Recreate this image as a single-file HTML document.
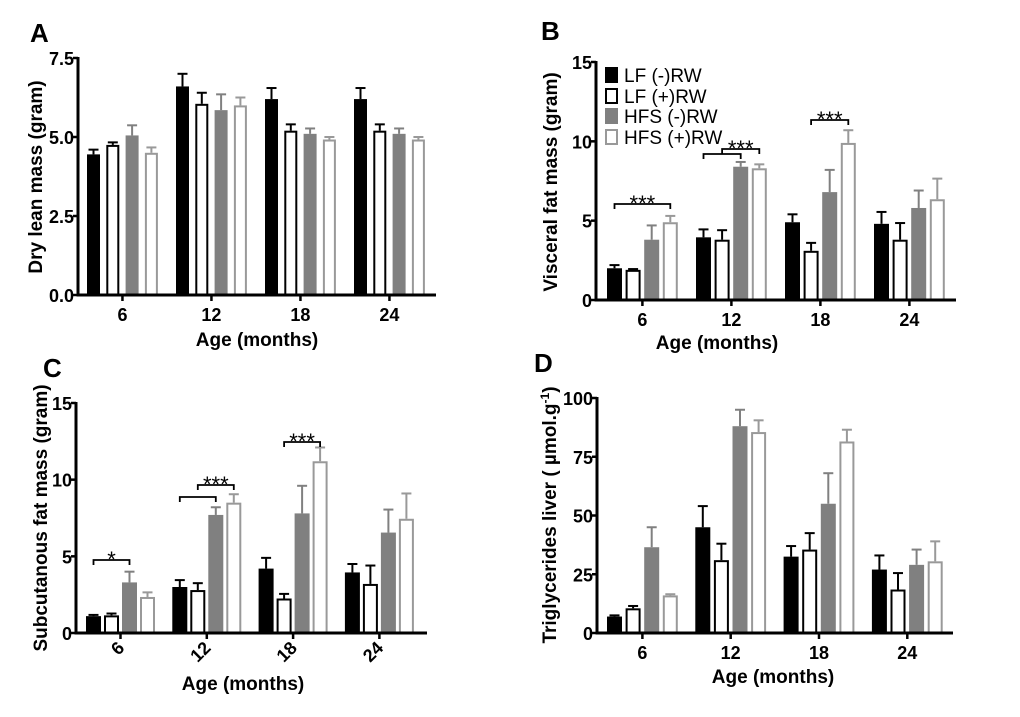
<!DOCTYPE html>
<html><head><meta charset="utf-8"><style>
html,body{margin:0;padding:0;background:#fff;}
svg{display:block;font-family:"Liberation Sans",Arial,sans-serif;}
</style></head><body>
<svg id="fig" width="1020" height="717" viewBox="0 0 1020 717" xmlns="http://www.w3.org/2000/svg">
<text x="30" y="42" font-size="26" font-weight="bold">A</text>
<text x="541" y="40" font-size="26" font-weight="bold">B</text>
<text x="43" y="377" font-size="26" font-weight="bold">C</text>
<text x="534" y="372" font-size="26" font-weight="bold">D</text>
<g id="legend">
<rect x="605" y="67" width="13" height="16" fill="#000"/>
<text x="624" y="82" font-size="19">LF (-)RW</text>
<rect x="606" y="89" width="11" height="14" fill="#fff" stroke="#000" stroke-width="2"/>
<text x="624" y="103" font-size="19">LF (+)RW</text>
<rect x="605" y="108" width="13" height="16" fill="#808080"/>
<text x="624" y="123" font-size="19">HFS (-)RW</text>
<rect x="606" y="130" width="11" height="14" fill="#fff" stroke="#999" stroke-width="2"/>
<text x="624" y="144" font-size="19">HFS (+)RW</text>
</g>
</svg>
<script>
var categories = ["6","12","18","24"];
var seriesNames = ["LF (-)RW","LF (+)RW","HFS (-)RW","HFS (+)RW"];
// Panel A: dry lean mass
var aLfMinus = [4.45, 6.6, 6.2, 6.2];
var aLfMinusErr = [0.15, 0.4, 0.35, 0.35];
var aLfPlus = [4.75, 6.05, 5.2, 5.2];
var aLfPlusErr = [0.08, 0.35, 0.2, 0.2];
var aHfsMinus = [5.05, 5.85, 5.1, 5.1];
var aHfsMinusErr = [0.32, 0.5, 0.17, 0.17];
var aHfsPlus = [4.5, 6.0, 4.92, 4.92];
var aHfsPlusErr = [0.17, 0.25, 0.08, 0.08];
var aTicks = ["0.0","2.5","5.0","7.5"];
var aTickValues = [0, 2.5, 5, 7.5];
// Panel B: visceral fat
var bLfMinus = [2.0, 3.95, 4.9, 4.8];
var bLfMinusErr = [0.2, 0.5, 0.5, 0.75];
var bLfPlus = [1.9, 3.8, 3.1, 3.8];
var bLfPlusErr = [0.05, 0.6, 0.5, 1.05];
var bHfsMinus = [3.8, 8.4, 6.8, 5.8];
var bHfsMinusErr = [0.9, 0.3, 1.4, 1.1];
var bHfsPlus = [4.9, 8.3, 9.9, 6.35];
var bHfsPlusErr = [0.4, 0.25, 0.8, 1.3];
var bTicks = ["0","5","10","15"];
var bTickValues = [0, 5, 10, 15];
// Panel C: subcutaneous fat
var cLfMinus = [1.1, 3.0, 4.2, 3.95];
var cLfMinusErr = [0.08, 0.45, 0.7, 0.55];
var cLfPlus = [1.15, 2.8, 2.25, 3.2];
var cLfPlusErr = [0.12, 0.45, 0.3, 1.2];
var cHfsMinus = [3.3, 7.7, 7.8, 6.55];
var cHfsMinusErr = [0.7, 0.5, 1.8, 1.5];
var cHfsPlus = [2.35, 8.5, 11.2, 7.45];
var cHfsPlusErr = [0.3, 0.55, 0.9, 1.65];
var cTicks = ["0","5","10","15"];
var cTickValues = [0, 5, 10, 15];
// Panel D: liver triglycerides
var dLfMinus = [7, 45, 32.5, 27];
var dLfMinusErr = [0.5, 9, 4.5, 6];
var dLfPlus = [10.5, 31, 35.5, 18.5];
var dLfPlusErr = [1, 7, 7, 7];
var dHfsMinus = [36.5, 88, 55, 29];
var dHfsMinusErr = [8.5, 7, 13, 6.5];
var dHfsPlus = [16, 85.5, 81.5, 30.5];
var dHfsPlusErr = [0.5, 5, 5, 8.5];
var dTicks = ["0","25","50","75","100"];
var dTickValues = [0, 25, 50, 75, 100];

var NS = "http://www.w3.org/2000/svg";
var svg = document.getElementById("fig");
var fills = ["#000","#fff","#808080","#fff"];
var strokes = ["#000","#000","#808080","#999"];
var sKeys = ["lf-minus","lf-plus","hfs-minus","hfs-plus"];
function mk(tag, attrs, parent){
  var e = document.createElementNS(NS, tag);
  for (var k in attrs) e.setAttribute(k, attrs[k]);
  (parent||svg).appendChild(e);
  return e;
}
function panel(p){
  var g = mk("g", {});
  
  
  function y(v){ return p.y0 - (v / p.ymax) * (p.y0 - p.ytop); }
  function gx(i){ return p.gStart + i * p.gPitch; }
  var series = [p.s0, p.s1, p.s2, p.s3];
  var errs = [p.e0, p.e1, p.e2, p.e3];
  for (var i = 0; i < categories.length; i++){
    for (var s = 0; s < 4; s++){
      var x = gx(i) + s * p.bPitch;
      var v = series[s][i], yt = y(v), ye = y(v + errs[s][i]);
      var cx = x + p.bw / 2;
      var el = mk("line", {x1:cx, x2:cx, y1:yt, y2:ye, stroke:strokes[s], "stroke-width":2}, g);
      
      
      var cap = mk("line", {x1:cx-5, x2:cx+5, y1:ye, y2:ye, stroke:strokes[s], "stroke-width":2}, g);
      
      
      var inset = (fills[s] === "#fff") ? 1 : 0;
      var r = mk("rect", {x:x+inset, y:yt+inset, width:p.bw-2*inset, height:Math.max(0,p.y0-yt-inset), fill:fills[s], stroke: inset? strokes[s] : "none", "stroke-width":2}, g);
      
      
    }
    var tc = gx(i) + (3 * p.bPitch + p.bw) / 2;
    var tk = mk("line", {x1:tc, x2:tc, y1:p.y0, y2:p.y0+6, stroke:"#000", "stroke-width":2.5}, g);
    
    
    var lbl;
    if (p.rot){
      lbl = mk("text", {x:tc+5, y:p.y0+16, "font-size":18, "font-weight":"bold", "text-anchor":"end", transform:"rotate(-45 "+(tc+5)+" "+(p.y0+16)+")"}, g);
    } else {
      lbl = mk("text", {x:tc, y:p.y0+26, "font-size":18, "font-weight":"bold", "text-anchor":"middle"}, g);
    }
    lbl.textContent = categories[i];
    
    
  }
  for (var t = 0; t < p.ticks.length; t++){
    var ty = y(p.tickValues[t]);
    var yl = mk("line", {x1:p.x0-5, x2:p.x0, y1:ty, y2:ty, stroke:"#000", "stroke-width":2.5}, g);
    
    
    var tl = mk("text", {x:p.x0-4, y:ty+7, "font-size":18, "font-weight":"bold", "text-anchor":"end"}, g);
    tl.textContent = p.ticks[t];
    
    
  }
  var ax = mk("path", {d:"M"+p.x0+" "+(p.ytop-1)+" L"+p.x0+" "+p.y0+" L"+p.x1+" "+p.y0, fill:"none", stroke:"#000", "stroke-width":3}, g);
  
  
  var xt = mk("text", {x:p.xtX, y:p.xtY, "font-size":19, "font-weight":"bold", "text-anchor":"middle"}, g);
  xt.textContent = "Age (months)";
  
  
  var yt2 = mk("text", {x:0, y:0, "font-size":19, "font-weight":"bold", "text-anchor":"middle", transform:"translate("+p.ytX+" "+p.ytY+") rotate(-90)"}, g);
  yt2.innerHTML = p.ytitle;
  
  
  (p.brackets||[]).forEach(function(b){
    var x1 = gx(b[0]) + b[1]*p.bPitch + p.bw/2, x2 = gx(b[0]) + b[2]*p.bPitch + p.bw/2;
    var by = b[3];
    var br = mk("path", {d:"M"+x1+" "+(by+5)+" L"+x1+" "+by+" L"+x2+" "+by+" L"+x2+" "+(by+5), fill:"none", stroke:"#000", "stroke-width":1.8}, g);
    
    
    if (b[4]){
      var st = mk("text", {x:(x1+x2)/2, y:by+7, "font-size":22, "text-anchor":"middle"}, g);
      st.textContent = b[4];
      
      
    }
  });
}
panel({id:"panel-a", x0:78, x1:436, y0:295, ytop:58, ymax:7.5, gStart:87, gPitch:89, bPitch:19.3, bw:13,
  s0:aLfMinus, s1:aLfPlus, s2:aHfsMinus, s3:aHfsPlus, e0:aLfMinusErr, e1:aLfPlusErr, e2:aHfsMinusErr, e3:aHfsPlusErr,
  ticks:aTicks, tickValues:aTickValues, xtX:257, xtY:346, ytX:42, ytY:177, ytitle:"Dry lean mass (gram)"});
panel({id:"panel-b", x0:596, x1:956, y0:300, ytop:62, ymax:15, gStart:607, gPitch:89, bPitch:18.6, bw:15,
  s0:bLfMinus, s1:bLfPlus, s2:bHfsMinus, s3:bHfsPlus, e0:bLfMinusErr, e1:bLfPlusErr, e2:bHfsMinusErr, e3:bHfsPlusErr,
  ticks:bTicks, tickValues:bTickValues, xtX:717, xtY:349, ytX:557, ytY:182, ytitle:"Visceral fat mass (gram)",
  brackets:[[0,0,3,204,"***"],[1,0,2,154,""],[1,1,3,149,"***"],[2,1,3,120,"***"]]});
panel({id:"panel-c", x0:76, x1:427, y0:633, ytop:403, ymax:15, gStart:86, gPitch:86.3, bPitch:18, bw:15,
  s0:cLfMinus, s1:cLfPlus, s2:cHfsMinus, s3:cHfsPlus, e0:cLfMinusErr, e1:cLfPlusErr, e2:cHfsMinusErr, e3:cHfsPlusErr,
  ticks:cTicks, tickValues:cTickValues, xtX:243, xtY:690, ytX:47, ytY:518, ytitle:"Subcutanous fat mass (gram)", rot:true,
  brackets:[[0,0,2,560,"*"],[1,0,2,497,""],[1,1,3,485,"***"],[2,1,3,442,"***"]]});
panel({id:"panel-d", x0:597, x1:953, y0:633, ytop:398, ymax:100, gStart:607, gPitch:88.3, bPitch:18.6, bw:15,
  s0:dLfMinus, s1:dLfPlus, s2:dHfsMinus, s3:dHfsPlus, e0:dLfMinusErr, e1:dLfPlusErr, e2:dHfsMinusErr, e3:dHfsPlusErr,
  ticks:dTicks, tickValues:dTickValues, xtX:773, xtY:683, ytX:556, ytY:515,
  ytitle:"Triglycerides liver ( \u00b5mol.g<tspan dy=\"-7\" font-size=\"12\">-1</tspan><tspan dy=\"7\">)</tspan>"});
</script>
</body></html>
